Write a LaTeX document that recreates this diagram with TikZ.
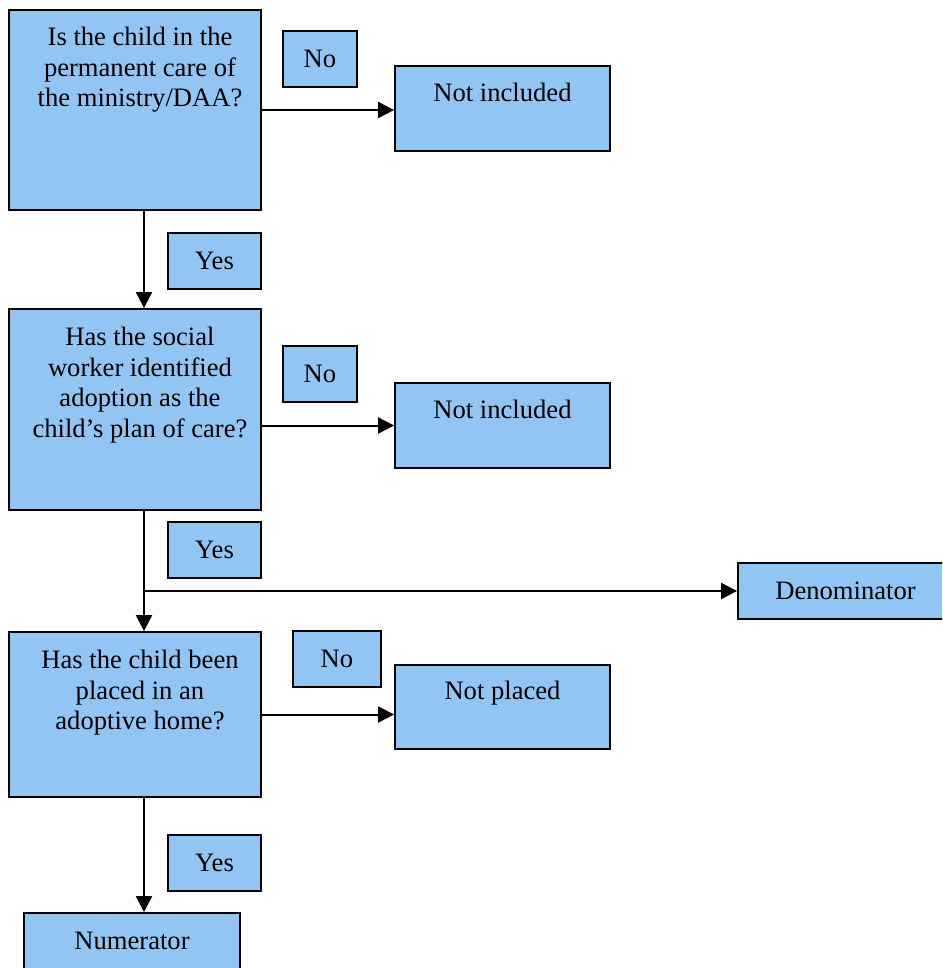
\documentclass[tikz,border=0pt]{standalone}
\usepackage{fontspec}
\setmainfont{Liberation Serif}
\usepackage{xcolor}
\usetikzlibrary{arrows.meta,positioning}
\definecolor{boxblue}{RGB}{146,196,244}

\begin{document}
\begin{tikzpicture}[x=0.5pt, y=-0.5pt,
  box/.style={draw=black, line width=0.9pt, fill=boxblue, inner sep=0pt,
    align=center, font={\fontsize{13.3}{15.25}\selectfont}},
  txt/.style={inner sep=0pt, align=center, font={\fontsize{13.3}{15.25}\selectfont}},
  arr/.style={line width=1pt, -{Triangle[length=8pt,width=8pt]}}]

% page frame
\useasboundingbox (0,0) rectangle (942,968);
\clip (0,0) rectangle (942,968);

% Question 1
\node[box, minimum width=126pt, minimum height=100pt] (q1) at (135,110) {};
\node[txt, below=9pt of q1.north, xshift=2.5pt] (q1txt) {Is the child in the\\permanent care of\\the ministry/DAA?};
\node[box, minimum width=37pt, minimum height=28pt] (no1) at (320,59) {No};
\node[box, minimum width=107.5pt, minimum height=42.5pt] (ni1) at (502.5,108.5) {};
\node[txt, below=9pt of ni1.north] (ni1txt) {Not included};
\node[box, minimum width=46.5pt, minimum height=28pt] (yes1) at (214.5,261) {Yes};

% Question 2
\node[box, minimum width=126pt, minimum height=100.5pt] (q2) at (135,409.5) {};
\node[txt, below=9.5pt of q2.north, xshift=2.5pt] (q2txt) {Has the social\\worker identified\\adoption as the\\child’s plan of care?};
\node[box, minimum width=37pt, minimum height=28pt] (no2) at (320,374) {No};
\node[box, minimum width=107.5pt, minimum height=42.5pt] (ni2) at (502.5,425.5) {};
\node[txt, below=9pt of ni2.north] (ni2txt) {Not included};
\node[box, minimum width=46.5pt, minimum height=28pt] (yes2) at (214.5,550) {Yes};
\node[box, minimum width=107.5pt, minimum height=28pt] (den) at (845.5,591) {Denominator};

% Question 3
\node[box, minimum width=126pt, minimum height=82.5pt] (q3) at (135,714.5) {};
\node[txt, below=9.5pt of q3.north, xshift=2.5pt] (q3txt) {Has the child been\\placed in an\\adoptive home?};
\node[box, minimum width=44pt, minimum height=28pt] (no3) at (337,659) {No};
\node[box, minimum width=107.5pt, minimum height=42pt] (np) at (502.5,707) {};
\node[txt, below=8.5pt of np.north] (nptxt) {Not placed};
\node[box, minimum width=46.5pt, minimum height=28pt] (yes3) at (214.5,863) {Yes};
\node[box, minimum width=108pt, minimum height=28pt] (num) at (132,941) {Numerator};

% No branches
\draw[arr] (q1.east) -- (q1.east -| ni1.west);
\draw[arr] (ni2.west -| q2.east) -- (ni2.west);
\draw[arr] (q3.east) -- (q3.east -| np.west);

% Yes branches
\draw[arr] ([xshift=4.5pt]q1.south) -- ([xshift=4.5pt]q1.south |- q2.north);
\draw[arr] ([xshift=4.5pt]q2.south) -- ([xshift=4.5pt]q2.south |- q3.north);
\draw[arr] ([xshift=4.5pt]q2.south |- den.west) -- (den.west);
\draw[arr] ([xshift=4.5pt]q3.south) -- ([xshift=4.5pt]q3.south |- num.north);

\end{tikzpicture}
\end{document}
